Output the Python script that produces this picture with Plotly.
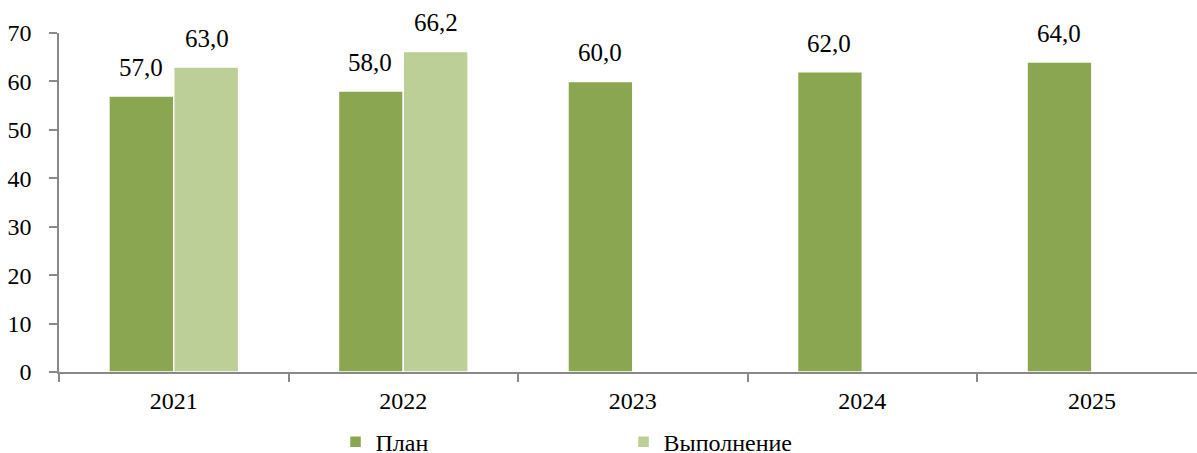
import plotly.graph_objects as go

years = ["2021", "2022", "2023", "2024", "2025"]
plan = [57.0, 58.0, 60.0, 62.0, 64.0]
fact = [63.0, 66.2, None, None, None]
y_ticks = [0, 10, 20, 30, 40, 50, 60, 70]

def fmt(v):
    return f"{v:.1f}".replace(".", ",")

FAM = "Liberation Serif"
SZ = 24
font = dict(family=FAM, size=SZ, color="#000000")
label_font = dict(family=FAM, size=25, color="#000000")

fig = go.Figure()
fig.add_trace(go.Bar(
    name="План", x=years, y=plan,
    marker=dict(color="#8BA650", line=dict(color="#FFFFFF", width=1.5)),
))
fig.add_trace(go.Bar(
    name="Выполнение", x=years, y=fact,
    marker=dict(color="#BBCF96", line=dict(color="#FFFFFF", width=1.5)),
))

# value labels above the bars (x given as the category's serial number)
for series, shift in ((plan, -33), (fact, 33)):
    for i, v in enumerate(series):
        if v is None:
            continue
        fig.add_annotation(x=i, y=v, text=fmt(v), showarrow=False,
                           xref="x", yref="y", yanchor="bottom",
                           xshift=shift, yshift=13, font=label_font)

fig.update_layout(
    width=1197, height=453,
    margin=dict(l=59, r=0, t=33, b=81, autoexpand=False),
    paper_bgcolor="white", plot_bgcolor="white",
    barmode="group", bargap=0.435, bargroupgap=0.0,
    font=font,
    showlegend=True,
    legend=dict(orientation="h", x=0.243, xanchor="left", y=-0.207, yanchor="middle",
                entrywidth=243, entrywidthmode="pixels",
                font=font, itemwidth=30, tracegroupgap=0),
)
# the last category runs past the right edge, as in the reference
fig.update_xaxes(
    type="category", categoryorder="array", categoryarray=years,
    range=[-0.5, 4.458],
    showline=True, linecolor="#898989", linewidth=1.5,
    ticks="outside", tickson="boundaries", ticklen=8, tickcolor="#898989", tickwidth=1.5,
    showgrid=False, tickfont=font, automargin=False, ticklabelstandoff=6, tickangle=0,
)
fig.update_yaxes(
    range=[0, 70], tickvals=y_ticks, showline=True, linecolor="#898989", linewidth=1.5,
    ticks="outside", ticklen=8, tickcolor="#898989", tickwidth=1.5,
    showgrid=False, zeroline=False, tickfont=font, ticklabelstandoff=13, automargin=False,
)

fig.write_html(
    "out.html",
    config={"displayModeBar": False},
    post_script="document.body.style.margin='0';document.body.style.overflow='hidden';",
)
